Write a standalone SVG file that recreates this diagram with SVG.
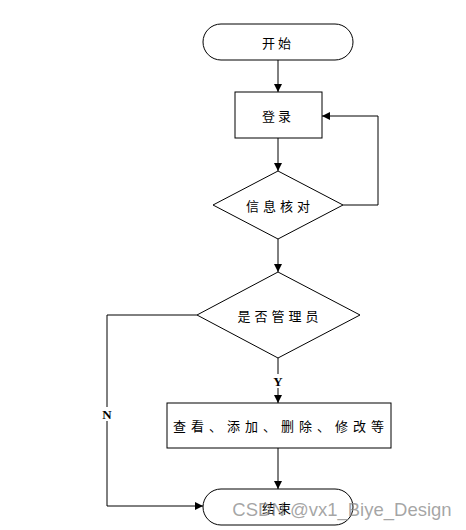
<svg xmlns="http://www.w3.org/2000/svg" width="466" height="530" viewBox="0 0 466 530">
<defs>
<marker id="arr" viewBox="0 0 10 10" refX="10" refY="5" markerWidth="8" markerHeight="8" markerUnits="userSpaceOnUse" orient="auto">
<path d="M0,0 L10,5 L0,10 z" fill="#000"/>
</marker>
<style>
.shape{fill:#fff;stroke:#000;stroke-width:1}
.t{font-family:"Noto Sans CJK SC","Noto Sans",sans-serif;font-size:13px;fill:#000;text-anchor:middle;dominant-baseline:central}
.lbl{font-family:"Liberation Serif",serif;font-size:13px;font-weight:bold;fill:#000;text-anchor:middle;dominant-baseline:central}
.c{fill:none;stroke:#000;stroke-width:1}
</style>
</defs>
<rect width="466" height="530" fill="#fff"/>
<g id="connectors">
<path class="c" d="M278,60 V92" marker-end="url(#arr)"/>
<path class="c" d="M278,138 V171" marker-end="url(#arr)"/>
<path class="c" d="M343,205 H378 V116 H322" marker-end="url(#arr)"/>
<path class="c" d="M278,239 V272" marker-end="url(#arr)"/>
<path class="c" d="M278,358 V403" marker-end="url(#arr)"/>
<path class="c" d="M197,315 H107 V506 H203" marker-end="url(#arr)"/>
<path class="c" d="M278,448 V489" marker-end="url(#arr)"/>
<rect x="271" y="374" width="14" height="14" fill="#fff"/>
<text class="lbl" x="278" y="381">Y</text>
<rect x="100" y="407" width="14" height="14" fill="#fff"/>
<text class="lbl" x="107" y="414">N</text>
</g>
<g id="start">
<rect class="shape" x="203" y="24" width="150" height="36" rx="18" ry="18"/>
<text class="t" x="278" y="42" letter-spacing="3">开始</text>
</g>
<g id="login">
<rect class="shape" x="235" y="92" width="87" height="46"/>
<text class="t" x="278" y="115" letter-spacing="3">登录</text>
</g>
<g id="verify">
<polygon class="shape" points="278,171 343,205 278,239 213,205"/>
<text class="t" x="280" y="205" letter-spacing="4">信息核对</text>
</g>
<g id="isadmin">
<polygon class="shape" points="278,272 360,315 278,358 197,315"/>
<text class="t" x="280" y="315" letter-spacing="4">是否管理员</text>
</g>
<g id="manage">
<rect class="shape" x="167" y="403" width="224" height="45"/>
<text class="t" x="281" y="425" letter-spacing="5">查看、添加、删除、修改等</text>
</g>
<g id="end">
<rect class="shape" x="203" y="489" width="150" height="36" rx="18" ry="18"/>
<text class="t" x="278" y="507" letter-spacing="3">结束</text>
</g>
<text id="watermark" x="342" y="509" font-family="'Liberation Sans',sans-serif" font-size="18.5" fill="#888" fill-opacity="0.75" text-anchor="middle" dominant-baseline="central">CSDN @vx1_Biye_Design</text>
</svg>
